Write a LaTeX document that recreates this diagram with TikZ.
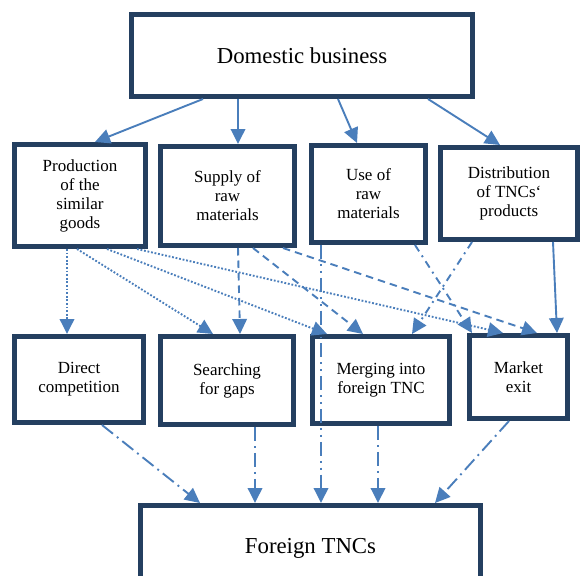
\documentclass[tikz,border=0pt]{standalone}
\usepackage{fontspec}
\setmainfont{Liberation Serif}
\usetikzlibrary{arrows.meta}
\definecolor{boxc}{HTML}{243F60}
\definecolor{arrc}{HTML}{4A7EBB}
\begin{document}
\begin{tikzpicture}[x=1pt,y=-1pt,
 box/.style={draw=boxc, line width=5pt, fill=white, align=center, inner sep=0pt, font=\fontsize{17}{19}\selectfont},
 bigbox/.style={box, font=\fontsize{22.8}{27}\selectfont},
 conn/.style={draw=arrc, line width=1.9pt, -{Triangle[length=15pt,width=14.5pt]}},
 dotl/.style={conn, dash pattern=on 1.8pt off 1.8pt},
 dashl/.style={conn, dash pattern=on 7.5pt off 5pt},
 dashdotl/.style={conn, dash pattern=on 7.5pt off 5pt on 1.9pt off 5pt},
 lgdashdotl/.style={conn, dash pattern=on 14pt off 5pt on 1.9pt off 5pt},
 lgdashdotdotl/.style={conn, dash pattern=on 14pt off 5pt on 1.9pt off 5pt on 1.9pt off 5pt},
]
\useasboundingbox (0,0) rectangle (580,575);
\clip (0,0) rectangle (580,575);
\fill[white] (0,0) rectangle (580,575);

% nodes
\node[bigbox, minimum width=341pt, minimum height=82pt] (top) at (302,55.5) {Domestic business};
\node[box, minimum width=131pt, minimum height=102pt] (prod) at (80,195.5) {Production\\of the\\similar\\goods};
\node[box, minimum width=134pt, minimum height=99pt] (supply) at (227.5,196) {Supply of\\raw\\materials};
\node[box, minimum width=114pt, minimum height=97pt] (use) at (368.5,194) {Use of\\raw\\materials};
\node[box, minimum width=137pt, minimum height=92pt] (dist) at (509,193.5) {Distribution\\of TNCs{\char"0060}\\products};
\node[box, minimum width=129pt, minimum height=86pt] (direct) at (79,379.5) {Direct\\competition};
\node[box, minimum width=133pt, minimum height=88pt] (search) at (227,380.5) {Searching\\for gaps};
\node[box, minimum width=137pt, minimum height=87pt] (merge) at (381,380) {Merging into\\foreign TNC};
\node[box, minimum width=98pt, minimum height=83pt] (exit) at (518.5,377) {Market\\exit};
\node[bigbox, minimum width=340pt, minimum height=85pt] (foreign) at (310.5,548) {Foreign TNCs};

% top to row 2
\draw[conn] ([xshift=-99pt]top.south) -- ([xshift=15pt]prod.north);
\draw[conn] ([xshift=-64pt]top.south) -- ([xshift=10.5pt]supply.north);
\draw[conn] ([xshift=36pt]top.south) -- ([xshift=-11.5pt]use.north);
\draw[conn] ([xshift=126pt]top.south) -- ([xshift=-9pt]dist.north);

% production (dotted)
\draw[dotl] ([xshift=-13pt]prod.south) -- ([xshift=-12pt]direct.north);
\draw[dotl] ([xshift=-3pt]prod.south) -- ([xshift=-14pt]search.north);
\draw[dotl] ([xshift=27pt]prod.south) -- ([xshift=-54pt]merge.north);
\draw[dotl] ([xshift=57pt]prod.south) -- ([xshift=-15.5pt]exit.north);

% supply (dashed)
\draw[dashl] ([xshift=10.5pt]supply.south) -- ([xshift=13pt]search.north);
\draw[dashl] ([xshift=25.5pt]supply.south) -- ([xshift=-18pt]merge.north);
\draw[dashl] ([xshift=55.5pt]supply.south) -- ([xshift=18.5pt]exit.north);

% use
\draw[lgdashdotdotl] ([xshift=-47.5pt]use.south) -- ([xshift=10.5pt]foreign.north);
\draw[dashdotl] ([xshift=46.5pt]use.south) -- ([xshift=-46.5pt]exit.north);

% distribution
\draw[dashdotl] ([xshift=-37pt]dist.south) -- ([xshift=31pt]merge.north);
\draw[conn] ([xshift=44pt]dist.south) -- ([xshift=38.5pt]exit.north);

% row 3 to foreign
\draw[lgdashdotl] ([xshift=23pt]direct.south) -- ([xshift=-110.5pt]foreign.north);
\draw[lgdashdotl] ([xshift=28pt]search.south) -- ([xshift=-55.5pt]foreign.north);
\draw[lgdashdotl] ([xshift=-3pt]merge.south) -- ([xshift=67.5pt]foreign.north);
\draw[lgdashdotl] ([xshift=-9.5pt]exit.south) -- ([xshift=124.5pt]foreign.north);
\end{tikzpicture}
\end{document}
